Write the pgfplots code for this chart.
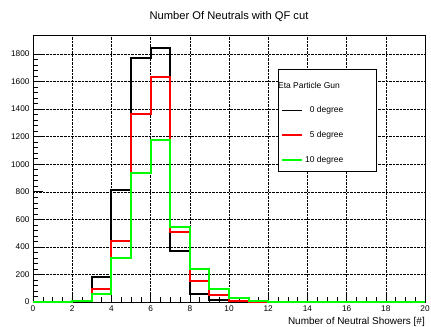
\documentclass[border=0pt]{standalone}
\usepackage{fontspec}
\setmainfont{Liberation Sans}
\usepackage{pgfplots}
\pgfplotsset{compat=1.18}
\begin{document}
\begin{tikzpicture}[x=1bp,y=1bp]
\path[use as bounding box] (0,0) rectangle (431,327);
\begin{axis}[
  at={(33bp,25bp)}, anchor=south west,
  scale only axis, width=392bp, height=267bp,
  xmin=0, xmax=20, ymin=0, ymax=1938,
  xtick={0,2,...,20}, ytick={0,200,...,1800},
  minor x tick num=3, minor y tick num=4,
  tick align=inside, xtick pos=bottom, ytick pos=left,
  major tick length=10bp, minor tick length=5bp,
  grid=major,
  major grid style={black, densely dotted, line width=0.4pt},
  axis line style={black, line width=0.8pt},
  tick style={black, line width=0.6pt},
  /pgf/number format/assume math mode=true,
  /pgf/number format/1000 sep={},
  ticklabel style={font=\fontsize{8.3}{9}\selectfont},
  title={Number Of Neutrals with QF cut},
  title style={font=\fontsize{11.2}{13}\selectfont, at={(0.5,1)}, anchor=south, yshift=4bp},
  xlabel={Number of Neutral Showers [\#]},
  xlabel style={font=\fontsize{10}{11}\selectfont, at={(1,0)}, anchor=north east, yshift=-15bp, inner sep=0pt},
  legend style={at={(0.625,0.873)}, anchor=north west, draw=black, line width=0.7pt,
    font=\fontsize{8.5}{10}\selectfont, row sep=13bp, inner xsep=3bp, inner ysep=6bp},
  legend cell align=left,
  legend image code/.code={\draw[#1, line width=1.8bp] (0bp,0bp) -- (20bp,0bp);},
]
\addlegendimage{empty legend}
\addlegendentry{\hspace*{-27bp}\rule{0pt}{11bp}Eta Particle Gun}
\addplot[const plot mark left, black, line width=2bp] coordinates {
(0,0) (1,0) (2,10) (3,184) (4,813) (5,1771) (6,1843) (7,370) (8,58) (9,12) (10,3) (11,0) (12,0) (13,0) (14,0) (15,0) (16,0) (17,0) (18,0) (19,0) (20,0)};
\addlegendentry{\makebox[66bp][l]{\ \ 0 degree}}
\addplot[const plot mark left, red, line width=2bp] coordinates {
(0,0) (1,0) (2,8) (3,94) (4,445) (5,1364) (6,1630) (7,510) (8,155) (9,49) (10,10) (11,3) (12,0) (13,0) (14,0) (15,0) (16,0) (17,0) (18,0) (19,0) (20,0)};
\addlegendentry{\makebox[66bp][l]{\ \ 5 degree}}
\addplot[const plot mark left, green, line width=2bp] coordinates {
(0,0) (1,0) (2,4) (3,56) (4,322) (5,938) (6,1173) (7,547) (8,240) (9,94) (10,29) (11,8) (12,3) (13,0) (14,0) (15,0) (16,0) (17,0) (18,0) (19,0) (20,0)};
\addlegendentry{\makebox[66bp][l]{10 degree}}
\end{axis}
\end{tikzpicture}
\end{document}
